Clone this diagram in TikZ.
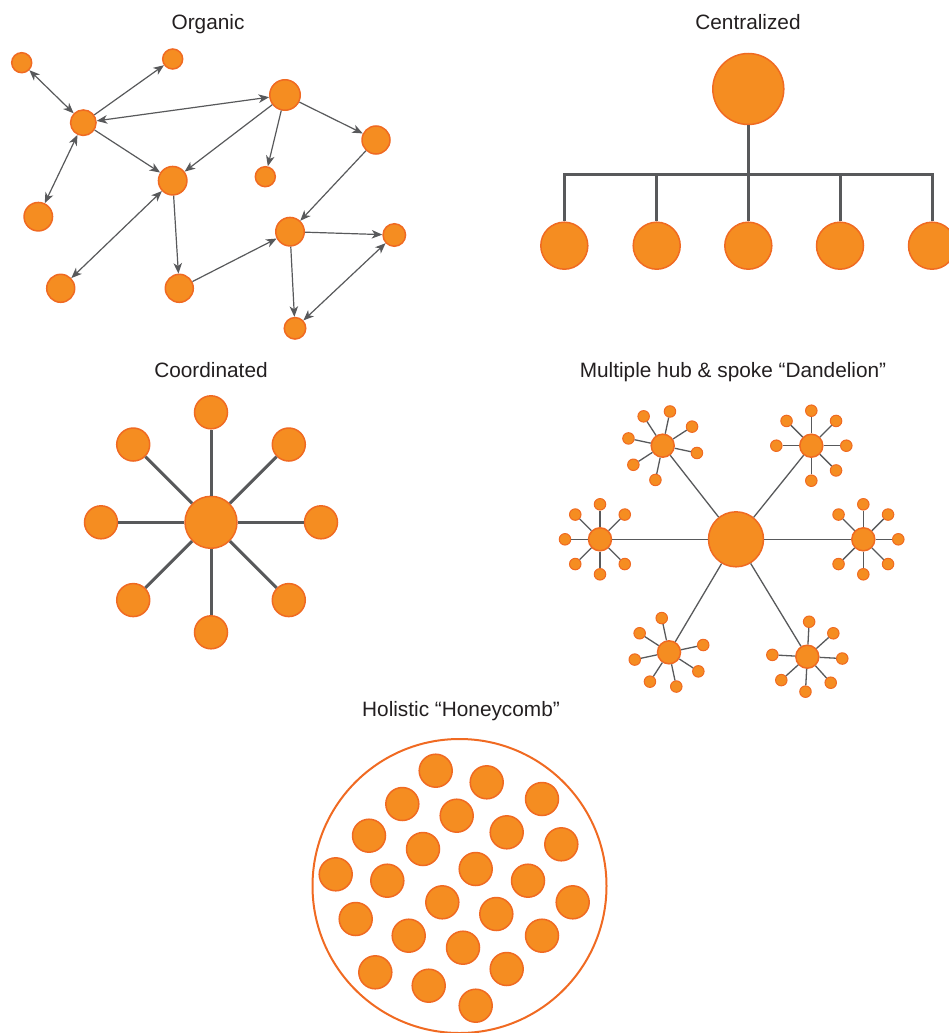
\documentclass[tikz,border=0pt]{standalone}
\usepackage{fontspec}
\setmainfont{Liberation Sans}
\usetikzlibrary{arrows.meta,calc}
\definecolor{orF}{RGB}{245,141,33}
\definecolor{orS}{RGB}{240,106,34}
\definecolor{lnG}{RGB}{88,89,91}
\definecolor{txt}{RGB}{35,31,32}
\tikzset{
  dot/.style={circle,fill=orF,draw=orS,line width=1.5pt,inner sep=0pt,minimum size=#1},
  title/.style={font=\fontsize{20.8}{24}\selectfont,text=txt,inner sep=0pt,anchor=base},
  tip/.tip={Stealth[length=10.5pt,width=8.5pt,inset=3pt]},
  arr/.style={draw=lnG,line width=1.2pt,-tip},
  darr/.style={draw=lnG,line width=1.2pt,tip-tip},
  thickln/.style={draw=lnG,line width=3pt},
  thinln/.style={draw=lnG,line width=1.3pt},
  ring/.style={circle,draw=orS,line width=2pt,inner sep=0pt,minimum size=#1}
}
\begin{document}
\begin{tikzpicture}[x=1pt,y=-1pt]
\useasboundingbox (0,0) rectangle (948,1033);

% ---------- titles
\node[title] (t1) at (208,30) {Organic};
\node[title] (t2) at (748,30) {Centralized};
\node[title] (t3) at (211,377) {Coordinated};
\node[title] (t4) at (733,377) {Multiple hub \& spoke “Dandelion”};
\node[title] (t5) at (461,716) {Holistic “Honeycomb”};

% ---------- Organic
\node[dot=20] (oA) at (21.7,62.7) {};
\node[dot=20] (oB) at (172.7,59) {};
\node[dot=25.5] (oC) at (83.3,122.7) {};
\node[dot=30.5] (oD) at (285,95) {};
\node[dot=28] (oE) at (376,140) {};
\node[dot=20] (oF) at (265.3,176.7) {};
\node[dot=28.5] (oG) at (172.7,180.7) {};
\node[dot=28.5] (oH) at (38.3,216.7) {};
\node[dot=28.5] (oI) at (290,231.7) {};
\node[dot=22.5] (oJ) at (394.3,235) {};
\node[dot=28] (oK) at (60.7,288.3) {};
\node[dot=28] (oL) at (179.3,288.3) {};
\node[dot=21.5] (oM) at (295,328.3) {};
\draw[darr] (oA) -- (oC);
\draw[arr] (oC) -- (oB);
\draw[darr] (oC) -- (oD);
\draw[arr] (oC) -- (oG);
\draw[darr] (oC) -- (oH);
\draw[arr] (oD) -- (oG);
\draw[arr] (oD) -- (oF);
\draw[arr] (oD) -- (oE);
\draw[arr] (oE) -- (oI);
\draw[darr] (oG) -- (oK);
\draw[arr] (oG) -- (oL);
\draw[arr] (oL) -- (oI);
\draw[arr] (oI) -- (oJ);
\draw[arr] (oI) -- (oM);
\draw[darr] (oJ) -- (oM);

% ---------- Centralized
\node[dot=71] (cT) at (748.3,89) {};
\coordinate (bus) at (748.3,174.3);
\foreach \i/\x in {1/564.3,2/656.7,3/748.3,4/840,5/932}{
  \node[dot=47] (cB\i) at (\x,245.7) {};
}
\draw[thickln] (cT) -- (bus);
\draw[thickln] (cB1.north) -- (cB1.north |- bus) -- (cB5.north |- bus) -- (cB5.north);
\foreach \i in {2,3,4}{
  \draw[thickln] (cB\i.north) -- (cB\i.north |- bus);
}

% ---------- Coordinated
\node[dot=52] (kC) at (211,522.3) {};
\foreach \a in {0,45,...,315}{
  \node[dot=33] (kO\a) at ($(kC)+(\a:110pt)$) {};
  \draw[thickln] (kC) -- (kO\a);
}

% ---------- Dandelion
\node[dot=55] (dC) at (736,539.3) {};
\node[dot=23] (dL) at (600,539.3) {};
\node[dot=23] (dR) at (863.3,539.3) {};
\node[dot=23] (dTL) at (662.7,445.7) {};
\node[dot=23] (dTR) at (811.3,445.7) {};
\node[dot=23] (dBL) at (669,652.3) {};
\node[dot=23] (dBR) at (807.3,656.7) {};
\foreach \h in {dL,dR,dTL,dTR,dBL,dBR}{
  \draw[thinln] (dC) -- (\h);
}
\foreach \h/\angs in {dL/{45,90,135,180,225,270,315},
                     dR/{0,45,90,135,225,270,315},
                     dTR/{0,45,90,135,180,270,315},
                     dTL/{168,123,78,33,-12,-102,-147},
                     dBL/{12,102,147,192,237,282,327},
                     dBR/{-3,42,87,177,222,267,312}}{
  \foreach \a [count=\k] in \angs {
    \node[dot=11.5,line width=1pt] (\h-\k) at ($(\h)+(\a:35pt)$) {};
    \draw[thinln] (\h) -- (\h-\k);
  }
}

% ---------- Honeycomb
\node[ring=294] (hR) at (459.5,886) {};
\foreach \x/\y [count=\k] in {435.7/770.7,486.7/782.3,542/799,402.3/804,456.7/815.7,
  506.7/832.3,369/835.7,561.3/844.3,423/849,475.7/869,335.7/874.3,387.3/880.7,
  528/880.7,572.7/902.3,442.3/902.3,496.3/914,355.7/919,408.7/935.7,542/935.7,
  463/947.7,506.7/969,375.3/972.3,428.7/985.7,475.7/1005.7}{
  \node[dot=33] (hc\k) at (\x,\y) {};
}
\end{tikzpicture}
\end{document}
